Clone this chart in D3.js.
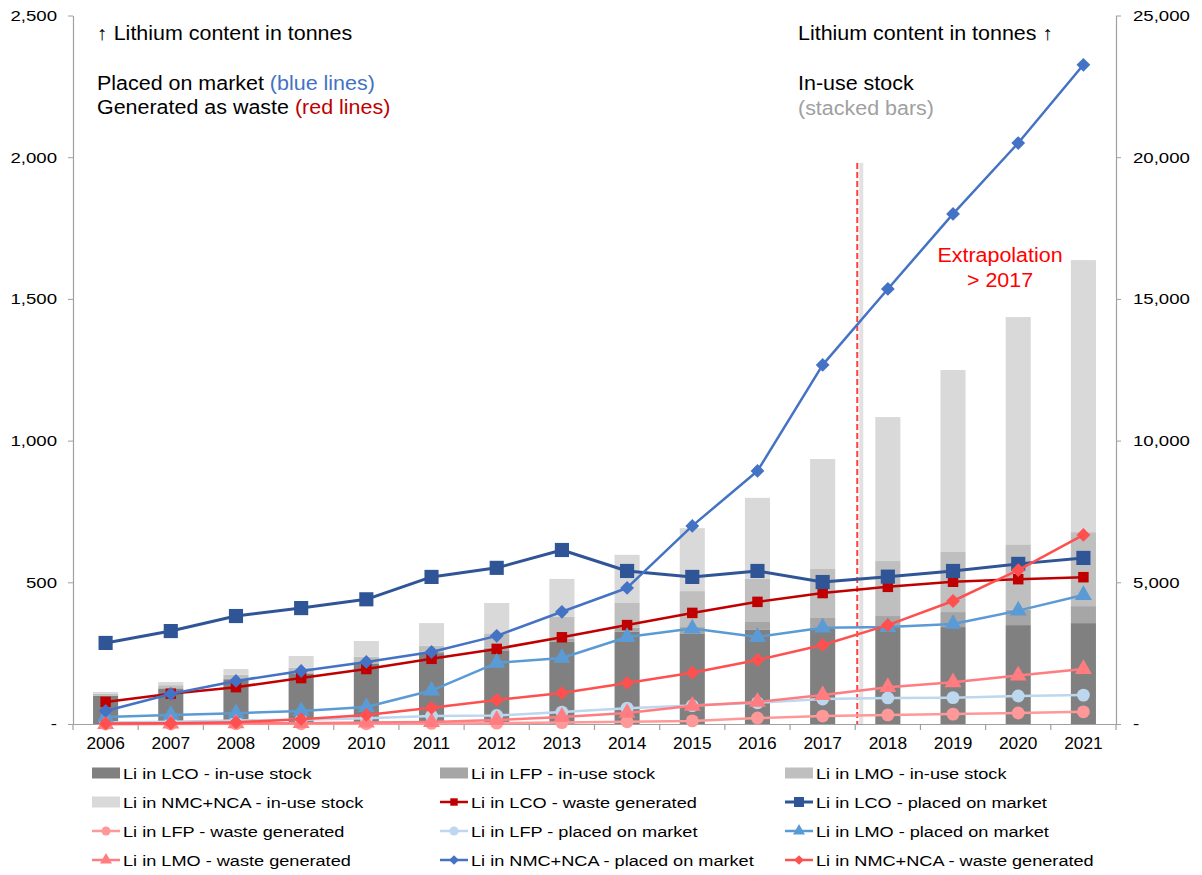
<!DOCTYPE html>
<html>
<head>
<meta charset="utf-8">
<script src="https://cdn.jsdelivr.net/npm/d3@7"></script>
<style>
  html, body { margin: 0; padding: 0; background: #fff; }
  svg { display: block; font-family: Arial, "Liberation Sans", sans-serif; }
</style>
</head>
<body>
<div id="chart"></div>
<script>
// ---------------- DATA ----------------
const years = ["2006","2007","2008","2009","2010","2011","2012","2013","2014","2015","2016","2017","2018","2019","2020","2021"];

// In-use stock (right axis, tonnes Li)
const stockLCO = [1000,1250,1580,1780,2130,2500,2600,2900,3250,3200,3320,3390,3420,3420,3490,3560];
const stockLFP = [10,20,30,40,50,60,100,120,150,220,280,350,390,530,550,600];
const stockLMO = [60,100,130,170,200,200,500,760,870,1270,1520,1730,1940,2120,2300,2610];
const stockNMC = [60,110,200,410,550,800,1070,1340,1700,2220,2860,3880,5080,6420,8020,9600];

// Flows (left axis, tonnes Li)
const lcoWaste  = [78,107,130,162,194,230,265,306,349,392,431,462,484,502,511,518];
const lcoPlaced = [286,328,381,409,440,519,551,614,540,519,540,501,520,540,565,586];
const lfpWaste  = [0,0,1,1,1,2,3,5,8,11,21,28,32,35,39,43];
const lfpPlaced = [5,8,12,15,20,28,30,42,56,65,75,88,92,93,99,102];
const lmoPlaced = [25,32,38,46,60,118,216,233,307,337,307,340,342,353,400,455];
const lmoWaste  = [0,1,2,3,5,7,14,25,39,64,78,102,130,147,171,194];
const nmcPlaced = [46,106,152,187,219,254,311,396,480,699,893,1267,1535,1800,2050,2326];
const nmcWaste  = [2,3,6,17,32,57,85,109,145,181,226,279,349,434,543,667];

const leftTicks  = [0,500,1000,1500,2000,2500];
const rightTicks = [0,5000,10000,15000,20000,25000];

const stackSeries = [
  {key:"lco", label:"Li in LCO - in-use stock",     values: stockLCO, color:"#808080"},
  {key:"lfp", label:"Li in LFP - in-use stock",     values: stockLFP, color:"#A6A6A6"},
  {key:"lmo", label:"Li in LMO - in-use stock",     values: stockLMO, color:"#BFBFBF"},
  {key:"nmc", label:"Li in NMC+NCA - in-use stock", values: stockNMC, color:"#D9D9D9"}
];

const lineSeries = [
  {label:"Li in LCO - waste generated",      values: lcoWaste,  color:"#C00000", sym:"square",   size:110, w:2.5},
  {label:"Li in LCO - placed on market",     values: lcoPlaced, color:"#2F5597", sym:"square",   size:200, w:3},
  {label:"Li in LFP - waste generated",      values: lfpWaste,  color:"#FF9999", sym:"circle",   size:130, w:2.5},
  {label:"Li in LFP - placed on market",     values: lfpPlaced, color:"#BDD7EE", sym:"circle",   size:130, w:2.5},
  {label:"Li in LMO - placed on market",     values: lmoPlaced, color:"#5B9BD5", sym:"triangle", size:125, w:2.5},
  {label:"Li in LMO - waste generated",      values: lmoWaste,  color:"#FF7C80", sym:"triangle", size:125, w:2.5},
  {label:"Li in NMC+NCA - placed on market", values: nmcPlaced, color:"#4472C4", sym:"diamond",  size:95,  w:2.5},
  {label:"Li in NMC+NCA - waste generated",  values: nmcWaste,  color:"#FF5050", sym:"diamond",  size:95,  w:2.5}
];

// legend order (rows of 3)
const legendOrder = [
  "Li in LCO - in-use stock", "Li in LFP - in-use stock", "Li in LMO - in-use stock",
  "Li in NMC+NCA - in-use stock", "Li in LCO - waste generated", "Li in LCO - placed on market",
  "Li in LFP - waste generated", "Li in LFP - placed on market", "Li in LMO - placed on market",
  "Li in LMO - waste generated", "Li in NMC+NCA - placed on market", "Li in NMC+NCA - waste generated"
];

// ---------------- CHART ----------------
const W = 1202, H = 875;
const X0 = 73, X1 = 1116, Y0 = 724, YT = 15.5;
const svg = d3.select("#chart").append("svg").attr("width", W).attr("height", H);

const x  = d3.scaleBand().domain(years).range([X0, X1]);
const yL = d3.scaleLinear().domain([0, 2500]).range([Y0, YT]);
const yR = d3.scaleLinear().domain([0, 25000]).range([Y0, YT]);
const barW = x.bandwidth() * 0.385;
const fmt = d => d === 0 ? "-" : d3.format(",")(d);

function stretch(sel, k) {
  sel.each(function() {
    const w = this.getComputedTextLength();
    d3.select(this).attr("textLength", w * k).attr("lengthAdjust", "spacingAndGlyphs");
  });
}

// stacked bars
const stackData = years.map((y, i) => {
  const o = {year: y};
  stackSeries.forEach(s => o[s.key] = s.values[i]);
  return o;
});
const stacked = d3.stack().keys(stackSeries.map(s => s.key))(stackData);
svg.append("g").selectAll("g").data(stacked).join("g")
  .attr("fill", (d, i) => stackSeries[i].color)
  .selectAll("rect").data(d => d).join("rect")
  .attr("x", d => x(d.data.year) + (x.bandwidth() - barW) / 2)
  .attr("width", barW)
  .attr("y", d => yR(d[1]))
  .attr("height", d => yR(d[0]) - yR(d[1]));

// axes
const axisColor = "#A0A0A0";
const gL = svg.append("g").attr("transform", `translate(${X0},0)`)
  .call(d3.axisLeft(yL).tickValues(leftTicks).tickFormat(fmt).tickSize(5).tickSizeOuter(0).tickPadding(11));
const gR = svg.append("g").attr("transform", `translate(${X1},0)`)
  .call(d3.axisRight(yR).tickValues(rightTicks).tickFormat(fmt).tickSize(5).tickSizeOuter(0).tickPadding(12));
const gX = svg.append("g").attr("transform", `translate(0,${Y0})`)
  .call(d3.axisBottom(x).tickSize(0).tickPadding(14).tickSizeOuter(0));
[gL, gR, gX].forEach(g => {
  g.select(".domain").attr("stroke", axisColor).attr("stroke-width", 1.2);
  g.selectAll(".tick line").attr("stroke", axisColor);
  g.selectAll("text").attr("fill", "#000").attr("font-size", 15.5)
    .attr("font-family", "Arial, 'Liberation Sans', sans-serif");
});
gX.selectAll("text").attr("font-size", 16);
// x tick marks at band boundaries
svg.append("g").selectAll("line").data(years.concat(["end"])).join("line")
  .attr("x1", d => d === "end" ? X1 : x(d)).attr("x2", d => d === "end" ? X1 : x(d))
  .attr("y1", Y0).attr("y2", Y0 + 6)
  .attr("stroke", axisColor).attr("stroke-width", 1.2);

// extrapolation divider
const divX = x("2018") + 2;
svg.append("line").attr("x1", divX + 4).attr("x2", divX + 4).attr("y1", 163).attr("y2", Y0)
  .attr("stroke", "#D0D0D0").attr("stroke-width", 4).attr("opacity", 0.6);
svg.append("line").attr("x1", divX).attr("x2", divX).attr("y1", 163).attr("y2", Y0)
  .attr("stroke", "#FF4040").attr("stroke-width", 2).attr("stroke-dasharray", "6,3");

// symbols
function symPath(s) {
  const t = s.sym === "square" || s.sym === "diamond" ? d3.symbolSquare
          : s.sym === "circle" ? d3.symbolCircle : d3.symbolTriangle;
  return d3.symbol().type(t).size(s.size)();
}

// lines
const lineGen = d3.line().x((d, i) => x(years[i]) + x.bandwidth() / 2).y(d => yL(d));
lineSeries.forEach(s => {
  const g = svg.append("g");
  g.append("path").attr("d", lineGen(s.values)).attr("fill", "none")
    .attr("stroke", s.color).attr("stroke-width", s.w).attr("stroke-linejoin", "round");
  g.selectAll("path.m").data(s.values).join("path").attr("class", "m")
    .attr("d", symPath(s))
    .attr("transform", (d, i) => `translate(${x(years[i]) + x.bandwidth() / 2},${yL(d)})` + (s.sym === "diamond" ? " rotate(45)" : ""))
    .attr("fill", s.color);
});

// annotations
const ann = svg.append("g").attr("font-size", 19.5).attr("fill", "#000");
const t1 = ann.append("text").attr("x", 97).attr("y", 40).text("↑ Lithium content in tonnes");
const t2 = ann.append("text").attr("x", 97).attr("y", 90);
t2.append("tspan").text("Placed on market ");
t2.append("tspan").attr("fill", "#4472C4").text("(blue lines)");
const t3 = ann.append("text").attr("x", 97).attr("y", 114);
t3.append("tspan").text("Generated as waste ");
t3.append("tspan").attr("fill", "#C00000").text("(red lines)");
const t4 = ann.append("text").attr("x", 798).attr("y", 40).text("Lithium content in tonnes ↑");
const t5 = ann.append("text").attr("x", 798).attr("y", 90).text("In-use stock");
const t6 = ann.append("text").attr("x", 798).attr("y", 115).attr("fill", "#A0A0A0").text("(stacked bars)");
const e1 = ann.append("text").attr("x", 1000).attr("y", 262).attr("text-anchor", "middle").attr("fill", "#FF0000").text("Extrapolation");
const e2 = ann.append("text").attr("x", 1000).attr("y", 287).attr("text-anchor", "middle").attr("fill", "#FF0000").text("> 2017");

// legend
const colX = [92, 440, 785], rowY = [773, 802, 831, 860];
const allItems = stackSeries.map(s => ({label: s.label, color: s.color, bar: true}))
  .concat(lineSeries.map(s => Object.assign({}, s, {bar: false})));
const leg = svg.append("g");
legendOrder.forEach((lab, i) => {
  const it = allItems.find(d => d.label === lab);
  const gx = colX[i % 3], gy = rowY[Math.floor(i / 3)];
  const g = leg.append("g").attr("transform", `translate(${gx},${gy})`);
  if (it.bar) {
    g.append("rect").attr("x", 0).attr("y", -5.5).attr("width", 28).attr("height", 11).attr("fill", it.color);
  } else {
    g.append("line").attr("x1", 0).attr("x2", 28).attr("y1", 0).attr("y2", 0)
      .attr("stroke", it.color).attr("stroke-width", it.w);
    g.append("path").attr("d", symPath(Object.assign({}, it, {size: it.size * 0.5})))
      .attr("transform", `translate(14,0)` + (it.sym === "diamond" ? " rotate(45)" : ""))
      .attr("fill", it.color);
  }
  g.append("text").attr("class", "legtext").attr("x", 31).attr("y", 5.5)
    .attr("font-size", 15.5).attr("fill", "#000").text(lab);
});

// horizontal stretch to match the reference's wide lettering
stretch(svg.selectAll(".legtext"), 1.17);
stretch(gL.selectAll("text"), 1.2);
stretch(gR.selectAll("text"), 1.2);
stretch(gX.selectAll("text"), 1.08);
stretch(ann.selectAll("text"), 1.1);
</script>
</body>
</html>
